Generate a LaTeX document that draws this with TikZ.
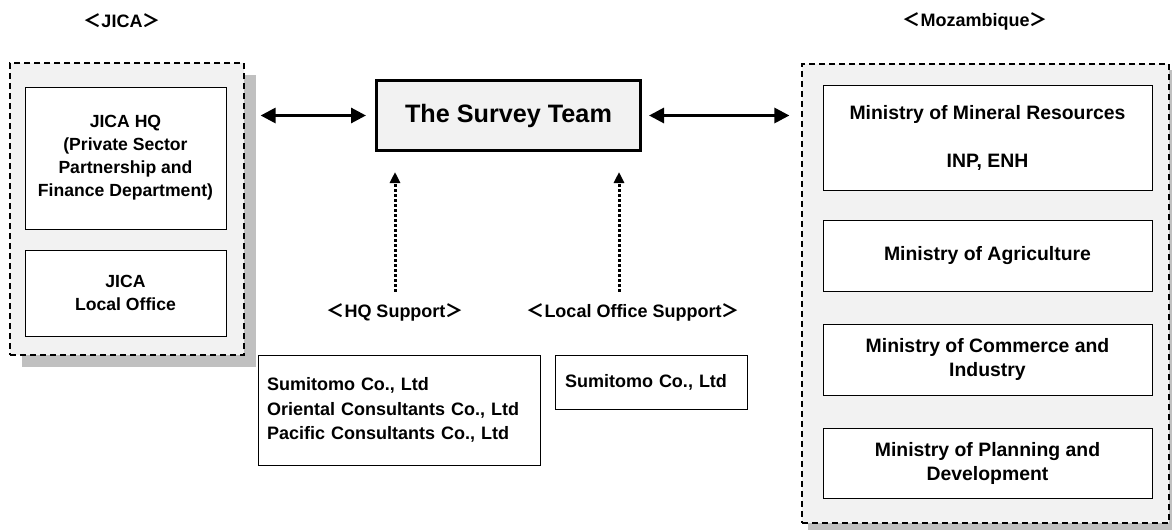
\documentclass[tikz,border=0pt]{standalone}
\usepackage{fontspec}
\setmainfont{Liberation Sans}
\newfontfamily\cjk{Noto Sans CJK JP}
\usetikzlibrary{arrows.meta}

\definecolor{panelgray}{HTML}{F2F2F2}
\definecolor{shadowgray}{HTML}{C0C0C0}

% full-width angle brackets round the headings
\newcommand{\lbrk}{{\cjk ＜}}
\newcommand{\rbrk}{{\cjk ＞}}

\begin{document}
\begin{tikzpicture}[x=1pt, y=-1pt,
    every node/.style={font=\bfseries},
    panel/.style={draw, fill=panelgray, line width=1.2pt, dash pattern=on 6pt off 4pt},
    unit/.style={draw, fill=white, line width=1pt, align=center, inner sep=0pt,
      font=\bfseries\fontsize{17.6}{23}\selectfont},
    ministry/.style={unit, minimum width=329pt, font=\bfseries\fontsize{19.4}{24}\selectfont},
    firms/.style={draw, fill=white, line width=1pt, align=left, inner xsep=9pt,
      font=\bfseries\fontsize{18}{24.5}\selectfont},
    heading/.style={font=\bfseries\fontsize{18}{22}\selectfont},
    link/.style={<->, line width=3pt, >={Triangle[length=15pt, width=15pt]}},
    support/.style={->, line width=3pt, dotted, >={Triangle[length=11pt, width=10pt]}}]
  \useasboundingbox (0,0) rectangle (1172,530);

  % JICA side
  \fill[shadowgray] (22,75) rectangle (256,367);
  \node[panel, minimum width=234pt, minimum height=292pt] (jica) at (127,209) {};
  \node[unit, minimum width=201pt, minimum height=142pt] (hq) at (125.5,158)
    {JICA HQ\\(Private Sector\\Partnership and\\Finance Department)};
  \node[unit, minimum width=201pt, minimum height=86pt] (office) at (125.5,293)
    {JICA\\Local Office};
  \node[heading] (jicatitle) at (122,21) {\lbrk JICA\rbrk};

  % survey team in the middle
  \node[draw, fill=panelgray, line width=3pt, minimum width=264pt, minimum height=70pt,
    font=\bfseries\fontsize{25.2}{30}\selectfont] (team) at (508.5,115.5) {The Survey Team};

  \node[heading] (hqsup) at (395,312) {\lbrk HQ Support\rbrk};
  \node[heading] (locsup) at (633,312) {\lbrk Local Office Support\rbrk};

  \node[firms, text width=264pt, minimum height=110pt] (hqfirms) at (399,410)
    {Sumitomo Co., Ltd\\Oriental Consultants Co., Ltd\\Pacific Consultants Co., Ltd};
  \node[firms, text width=172pt, inner xsep=10pt, minimum height=54pt] (locfirms) at (651,382)
    {Sumitomo Co., Ltd};

  % Mozambique side
  \fill[shadowgray] (808,70) rectangle (1172,530);
  \node[panel, minimum width=367pt, minimum height=459pt] (moz) at (985.5,293.5) {};
  \node[ministry, minimum height=105pt] (mirem) at (987.5,137.5)
    {Ministry of Mineral Resources\\[24pt]INP, ENH};
  \node[ministry, minimum height=71pt] (agri) at (987.5,255.5) {Ministry of Agriculture};
  \node[ministry, minimum height=71pt] (comm) at (987.5,359.5) {Ministry of Commerce and\\Industry};
  \node[ministry, minimum height=70pt] (plan) at (987.5,463) {Ministry of Planning and\\Development};
  \node[heading] (moztitle) at (975,21) {\lbrk Mozambique\rbrk};

  % connections
  \draw[link, shorten <=16pt, shorten >=9pt] (jica.east |- team.west) -- (team.west);
  \draw[link, shorten <=7pt, shorten >=12pt] (team.east) -- (moz.west |- team.east);

  \coordinate (hqfoot) at (hqsup.north);
  \coordinate (locfoot) at ([xshift=-14pt]locsup.north);
  \draw[support, shorten <=8pt, shorten >=20pt] (hqfoot) -- (hqfoot |- team.south);
  \draw[support, shorten <=8pt, shorten >=20pt] (locfoot) -- (locfoot |- team.south);
\end{tikzpicture}
\end{document}
